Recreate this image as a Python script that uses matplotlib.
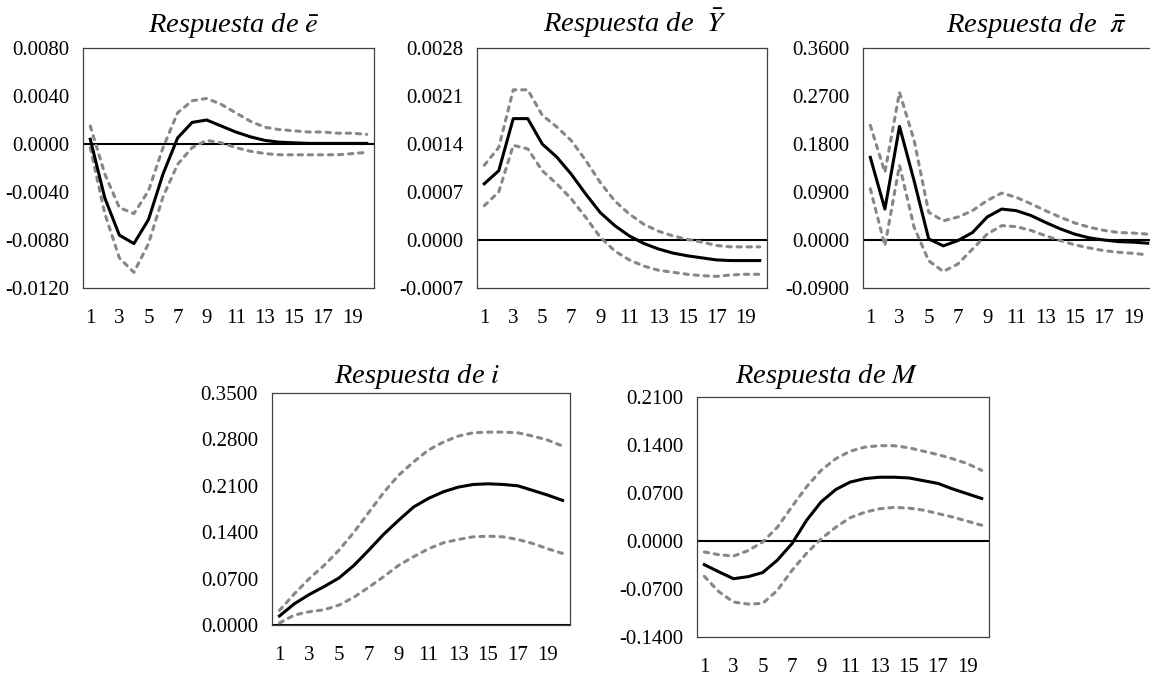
import matplotlib
matplotlib.use("Agg")
import matplotlib.pyplot as plt
from matplotlib.ticker import FixedLocator, FuncFormatter
import numpy as np

plt.rcParams['font.family'] = ['Liberation Serif', 'DejaVu Serif']
plt.rcParams['mathtext.fontset'] = 'stix'

periods = list(range(1, 21))
xtick_labels = [1, 3, 5, 7, 9, 11, 13, 15, 17, 19]

# Respuesta de e-bar
e_mid = [0.0004, -0.0045, -0.0076, -0.0083, -0.0063, -0.0025, 0.0005, 0.0018, 0.0020, 0.0015,
         0.0010, 0.0006, 0.0003, 0.00015, 0.0001, 0.00005, 0.00005, 0.00005, 0.00005, 0.00005]
e_up = [0.0015, -0.0025, -0.0053, -0.0058, -0.0039, -0.0003, 0.0026, 0.0036, 0.0038, 0.0033,
        0.0026, 0.0019, 0.0014, 0.0012, 0.0011, 0.0010, 0.0010, 0.0009, 0.0009, 0.0008]
e_lo = [-0.0003, -0.0058, -0.0095, -0.0107, -0.0083, -0.0044, -0.0017, -0.0003, 0.0003, 0.0001,
        -0.0003, -0.0006, -0.0008, -0.0009, -0.0009, -0.0009, -0.0009, -0.0009, -0.0008, -0.0007]

# Respuesta de Y-bar
y_mid = [0.00082, 0.00101, 0.00177, 0.00177, 0.00140, 0.00121, 0.00096, 0.00067, 0.00040, 0.00021,
         0.00006, -0.00005, -0.00013, -0.00019, -0.00023, -0.00026, -0.00029, -0.00030, -0.00030, -0.00030]
y_up = [0.00109, 0.00135, 0.00219, 0.00219, 0.00182, 0.00165, 0.00145, 0.00116, 0.00084, 0.00057,
        0.00038, 0.00023, 0.00013, 0.00006, 0.00001, -0.00003, -0.00008, -0.00010, -0.00010, -0.00010]
y_lo = [0.00050, 0.00070, 0.00138, 0.00133, 0.00101, 0.00082, 0.00060, 0.00033, 0.00004, -0.00016,
        -0.00029, -0.00038, -0.00044, -0.00047, -0.00050, -0.00052, -0.00053, -0.00051, -0.00050, -0.00050]

# Respuesta de pi-bar
p_mid = [0.155, 0.058, 0.213, 0.111, 0.002, -0.011, -0.001, 0.014, 0.043, 0.058,
         0.055, 0.046, 0.033, 0.021, 0.011, 0.004, 0.000, -0.003, -0.004, -0.006]
p_up = [0.215, 0.127, 0.277, 0.187, 0.052, 0.036, 0.043, 0.055, 0.074, 0.088,
        0.080, 0.068, 0.055, 0.043, 0.032, 0.024, 0.018, 0.014, 0.013, 0.011]
p_lo = [0.096, -0.011, 0.140, 0.024, -0.039, -0.059, -0.045, -0.017, 0.011, 0.027,
        0.025, 0.018, 0.008, -0.001, -0.009, -0.015, -0.020, -0.023, -0.025, -0.028]

# Respuesta de i
i_mid = [0.0136, 0.032, 0.046, 0.058, 0.071, 0.090, 0.113, 0.137, 0.158, 0.178,
         0.191, 0.201, 0.208, 0.212, 0.213, 0.212, 0.210, 0.203, 0.196, 0.188]
i_up = [0.022, 0.047, 0.070, 0.090, 0.113, 0.140, 0.170, 0.200, 0.226, 0.246,
        0.264, 0.276, 0.285, 0.290, 0.291, 0.291, 0.290, 0.285, 0.279, 0.270]
i_lo = [0.003, 0.015, 0.020, 0.023, 0.030, 0.042, 0.057, 0.073, 0.090, 0.103,
        0.115, 0.124, 0.129, 0.133, 0.134, 0.133, 0.129, 0.123, 0.115, 0.108]

# Respuesta de M
m_mid = [-0.0345, -0.045, -0.055, -0.052, -0.046, -0.028, -0.004, 0.030, 0.057, 0.075,
         0.086, 0.091, 0.093, 0.093, 0.092, 0.088, 0.084, 0.076, 0.069, 0.062]
m_up = [-0.016, -0.020, -0.022, -0.014, -0.0015, 0.020, 0.050, 0.079, 0.103, 0.120,
        0.131, 0.137, 0.139, 0.139, 0.136, 0.131, 0.126, 0.120, 0.113, 0.103]
m_lo = [-0.0515, -0.074, -0.089, -0.092, -0.091, -0.072, -0.043, -0.018, 0.003, 0.020,
        0.034, 0.042, 0.047, 0.049, 0.048, 0.045, 0.040, 0.035, 0.029, 0.023]

titles = [r"Respuesta de $\bar{e}$", r"Respuesta de  $\bar{Y}$", r"Respuesta de  $\bar{\pi}$",
          r"Respuesta de $i$", r"Respuesta de $M$"]
yticks = [
    [-0.012, -0.008, -0.004, 0.0, 0.004, 0.008],
    [-0.0007, 0.0, 0.0007, 0.0014, 0.0021, 0.0028],
    [-0.09, 0.0, 0.09, 0.18, 0.27, 0.36],
    [0.0, 0.07, 0.14, 0.21, 0.28, 0.35],
    [-0.14, -0.07, 0.0, 0.07, 0.14, 0.21],
]
series = [(e_mid, e_up, e_lo), (y_mid, y_up, y_lo), (p_mid, p_up, p_lo),
          (i_mid, i_up, i_lo), (m_mid, m_up, m_lo)]

W, H = 1150, 679
fig = plt.figure(figsize=(W / 100, H / 100), dpi=100)

# pixel boxes: left, right, top, bottom
boxes = [(83, 374, 48, 288), (477, 767, 48, 288), (863, 1155, 48, 288),
         (272, 570, 393, 625), (697, 989, 397, 637)]
title_pos = [(233, 32), (635, 32), (1037, 32), (417, 383), (827, 383)]

fmt = FuncFormatter(lambda v, p: f"{v:.4f}".replace("-0.0000", "0.0000"))

for k in range(5):
    l, r, t, b = boxes[k]
    ax = fig.add_axes([l / W, 1 - b / H, (r - l) / W, (b - t) / H])
    mid, up, lo = series[k]
    ax.axhline(0, color='black', lw=1.5, zorder=1)
    for band in (up, lo):
        ax.plot(periods, band, color='#878787', lw=2.2, dashes=(1.4, 1.9),
                dash_capstyle='round', zorder=2)
    ax.plot(periods, mid, color='black', lw=2.2, zorder=3)
    ax.set_xlim(0.5, 20.5)
    ax.set_ylim(yticks[k][0], yticks[k][-1])
    ax.xaxis.set_major_locator(FixedLocator(xtick_labels))
    ax.set_xticklabels([str(v) for v in xtick_labels])
    ax.yaxis.set_major_locator(FixedLocator(yticks[k]))
    ax.yaxis.set_major_formatter(fmt)
    ax.tick_params(axis='both', length=0, labelsize=15, colors='black')
    ax.tick_params(axis='y', pad=10)
    ax.tick_params(axis='x', pad=15)
    for s in ax.spines.values():
        s.set_color('#404040')
        s.set_linewidth(0.9)
    tx, ty = title_pos[k]
    fig.text(tx / W, 1 - ty / H, titles[k], ha='center', va='baseline',
             fontsize=20.5, style='italic')

fig.savefig("out.png", dpi=100)
